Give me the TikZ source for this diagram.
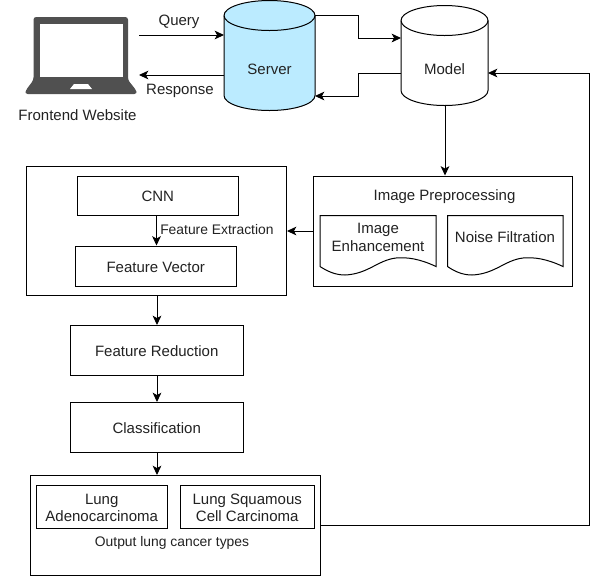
\documentclass[tikz,border=0pt]{standalone}
\usepackage{fontspec}
\setmainfont{Liberation Sans}
\usetikzlibrary{arrows.meta,calc}
\definecolor{ink}{HTML}{222222}
\definecolor{lap}{HTML}{505050}
\definecolor{srv}{HTML}{BBEBFF}
\tikzset{
  x=0.75pt,y=-0.75pt,
  lbl/.style={font=\fontsize{11.25}{13}\selectfont,text=ink,inner sep=0pt,align=center},
  smalllbl/.style={font=\fontsize{10.4}{12}\selectfont,text=ink,inner sep=0pt,align=center},
  boxnode/.style={draw=black,line width=0.75pt,fill=white,inner sep=0pt,minimum width=#1,anchor=north west},
  boxtext/.style={label={[lbl,yshift=-0.75pt]center:#1}},
  conn/.style={draw=black,line width=0.75pt,-{Stealth[length=7pt,width=6.5pt,inset=1.8pt]}},
  shapeline/.style={draw=black,line width=0.75pt},
}
\begin{document}
\begin{tikzpicture}
\useasboundingbox (0,0) rectangle (598,576);
\fill[white] (0,0) rectangle (598,576);

% laptop
\fill[lap,rounded corners=2pt] (33.5,17) -- (128,17) -- (128,80) -- (136,90) -- (137,94) -- (25,94) -- (26,90) -- (33.5,80) -- cycle;
\fill[white] (39.5,23.5) rectangle (122.5,77);
\fill[white] (74,84) -- (88,84) -- (92,89) -- (70,89) -- cycle;
\coordinate (lapQ) at (139,35);
\coordinate (lapR) at (139,75);
\node[lbl] (front) at (77.5,115) {Frontend Website};

% server cylinder
\filldraw[shapeline,fill=srv] (224,15.5) -- (224,95.5) arc[start angle=180,end angle=0,x radius=45.5,y radius=15] -- (315,15.5) arc[start angle=0,end angle=-180,x radius=45.5,y radius=15] -- cycle;
\draw[shapeline] (224,15.5) arc[start angle=180,end angle=0,x radius=45.5,y radius=15];
\node[lbl] (server) at (269.5,69) {Server};
\coordinate (serverE1) at (315,15);
\coordinate (serverE2) at (315,96);
\coordinate (serverW1) at (224,35);
\coordinate (serverW2) at (224,75);

% model cylinder
\filldraw[shapeline,fill=white] (401,20.5) -- (401,90.5) arc[start angle=180,end angle=0,x radius=43.5,y radius=15] -- (488,20.5) arc[start angle=0,end angle=-180,x radius=43.5,y radius=15] -- cycle;
\draw[shapeline] (401,20.5) arc[start angle=180,end angle=0,x radius=43.5,y radius=15];
\node[lbl] (model) at (444.5,69) {Model};
\coordinate (modelW1) at (401,38);
\coordinate (modelW2) at (401,73);
\coordinate (modelE) at (488,73);
\coordinate (modelS) at (445,105.5);

% image preprocessing
\node[boxnode=259.5*0.75pt,minimum height=82.5pt] (prep) at (312.5,175.5) {};
\node[lbl] (preplbl) at (444.5,196.5) {Image Preprocessing};
\draw[shapeline] (320,215.5) -- (436,215.5) -- (436,266.5)
  .. controls (420,259) and (408,257) .. (396,258)
  .. controls (378,260) and (368,274) .. (345,275)
  .. controls (335,275) and (327,271) .. (320,266.5) -- cycle;
\node[lbl] (enh) at (378,237.5) {Image\\[1pt]Enhancement};
\draw[shapeline] (447.5,215.5) -- (563,215.5) -- (563,266.5)
  .. controls (547,259) and (535,257) .. (523,258)
  .. controls (505,260) and (495,274) .. (472,275)
  .. controls (462,275) and (454,271) .. (447.5,266.5) -- cycle;
\node[lbl] (noise) at (505,237) {Noise Filtration};

% feature box
\node[boxnode=260.5*0.75pt,minimum height=96.75pt] (feat) at (25.5,165.5) {};
\node[boxnode=161.5*0.75pt,minimum height=29.25pt,boxtext={CNN}] (cnn) at (76.5,175.5) {};
\node[boxnode=161.5*0.75pt,minimum height=30pt,boxtext={Feature Vector}] (fv) at (74.5,245.5) {};
\node[smalllbl,anchor=west] (fe) at (160,230) {Feature Extraction};

\node[boxnode=173.5*0.75pt,minimum height=37.5pt,boxtext={Feature Reduction}] (fr) at (69.5,325) {};
\node[boxnode=173.5*0.75pt,minimum height=37.5pt,boxtext={Classification}] (cl) at (69.5,402) {};

% output
\node[boxnode=290*0.75pt,minimum height=75pt] (out) at (30,475) {};
\node[boxnode=130.5*0.75pt,minimum height=32.25pt,boxtext={Lung\\[0pt]Adenocarcinoma}] (adeno) at (36,485) {};
\node[boxnode=133.5*0.75pt,minimum height=32.25pt,boxtext={Lung Squamous\\[0pt]Cell Carcinoma}] (squam) at (180,485) {};
\node[smalllbl] (outlbl) at (172,543) {Output lung cancer types};

% connector labels
\node[lbl] (q) at (179,21.5) {Query};
\node[lbl] (r) at (180,91) {Response};

% connectors
\path[conn] (lapQ) -- (serverW1);
\path[conn] (serverW2) -- (lapR);
\path[conn] (serverE1) -| (358,38) -- (modelW1);
\path[conn] (modelW2) -| (358,96) -- (serverE2);
\path[conn] (modelS) -- (prep.north -| modelS);
\path[conn] (prep.west) -- (feat.east |- prep.west);
\path[conn] (cnn.south -| 156.5,0) -- (fv.north -| 156.5,0);
\path[conn] (feat.south -| 157,0) -- (fr.north -| 157,0);
\path[conn] (fr.south -| 157,0) -- (cl.north -| 157,0);
\path[conn] (cl.south -| 157,0) -- (out.north -| 157,0);
\path[conn] (out.east |- 0,525) -| (589,73) -- (modelE);
\end{tikzpicture}
\end{document}
